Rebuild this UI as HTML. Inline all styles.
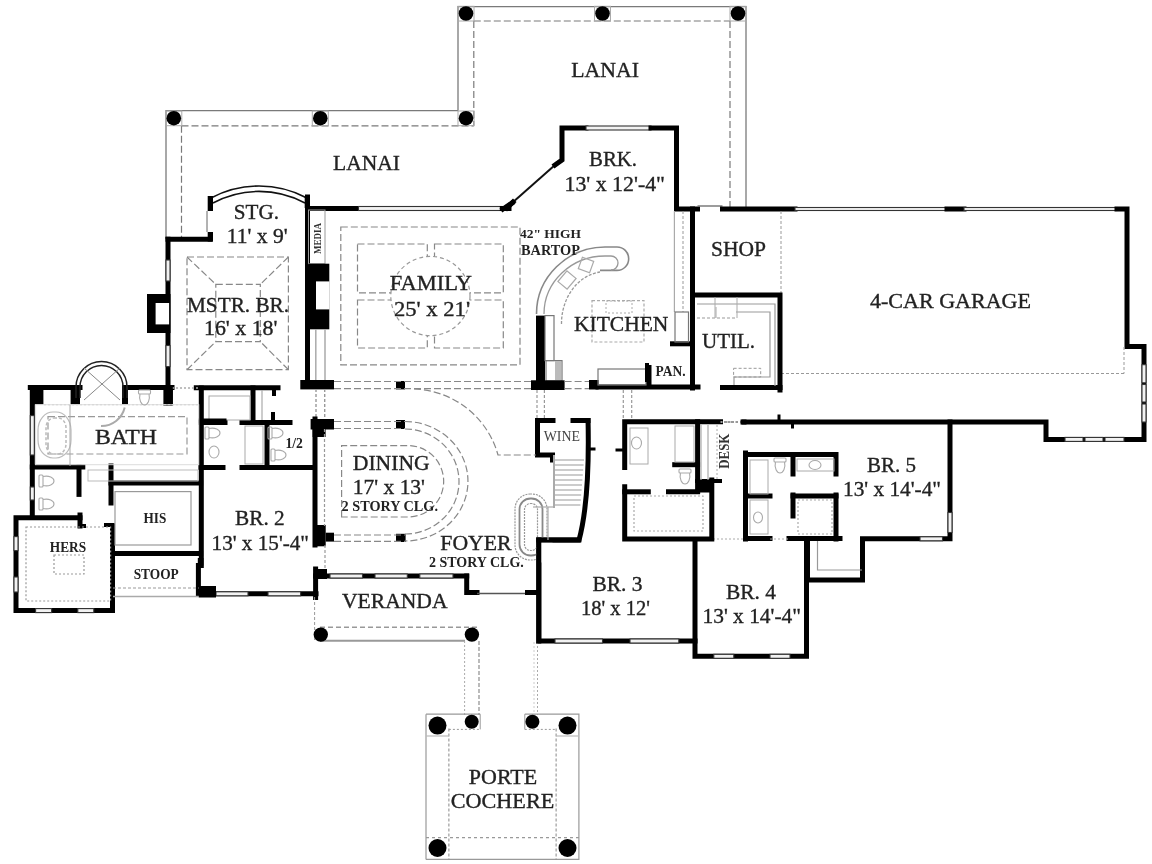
<!DOCTYPE html>
<html><head><meta charset="utf-8"><title>Floor Plan</title>
<style>
html,body{margin:0;padding:0;background:#fff;}
body{width:1152px;height:864px;overflow:hidden;}
svg{display:block;will-change:transform;}
text{font-family:"Liberation Serif", serif;}
</style></head>
<body>
<svg width="1152" height="864" viewBox="0 0 1152 864">
<rect width="1152" height="864" fill="#fff"/>
<path d="M458,110.7 V6.6 H746 V208" fill="none" stroke="#7a7a7a" stroke-width="1.3"/>
<line x1="473.8" y1="21" x2="730" y2="21" stroke="#7a7a7a" stroke-width="1.2" stroke-dasharray="7 3"/>
<line x1="473.8" y1="21" x2="473.8" y2="125.8" stroke="#7a7a7a" stroke-width="1.2" stroke-dasharray="7 3"/>
<line x1="730" y1="21" x2="730" y2="208" stroke="#7a7a7a" stroke-width="1.2" stroke-dasharray="7 3"/>
<path d="M166,239 V110.7 H458" fill="none" stroke="#7a7a7a" stroke-width="1.3"/>
<line x1="181.5" y1="125.8" x2="473.8" y2="125.8" stroke="#7a7a7a" stroke-width="1.2" stroke-dasharray="7 3"/>
<line x1="181.5" y1="125.8" x2="181.5" y2="239" stroke="#7a7a7a" stroke-width="1.2" stroke-dasharray="7 3"/>
<rect x="458" y="6.3" width="16" height="14.7" fill="none" stroke="#aaa" stroke-width="1"/>
<rect x="594.5" y="6.3" width="16.0" height="14.7" fill="none" stroke="#aaa" stroke-width="1"/>
<rect x="730" y="6.3" width="16" height="14.7" fill="none" stroke="#aaa" stroke-width="1"/>
<rect x="458" y="111.0" width="16" height="14.700000000000003" fill="none" stroke="#aaa" stroke-width="1"/>
<rect x="312.3" y="111.0" width="16.0" height="14.700000000000003" fill="none" stroke="#aaa" stroke-width="1"/>
<rect x="165.8" y="111.0" width="16.0" height="14.700000000000003" fill="none" stroke="#aaa" stroke-width="1"/>
<circle cx="466" cy="13.5" r="7.3" fill="#000"/>
<circle cx="602.5" cy="13.5" r="7.3" fill="#000"/>
<circle cx="738" cy="13.5" r="7.3" fill="#000"/>
<circle cx="466" cy="118.2" r="7.3" fill="#000"/>
<circle cx="320.3" cy="118.2" r="7.3" fill="#000"/>
<circle cx="173.8" cy="118.2" r="7.3" fill="#000"/>
<path d="M211,198 A102,102 0 0 1 307,198" fill="none" stroke="#111" stroke-width="1.6"/>
<path d="M213,203 A97,97 0 0 1 305,203" fill="none" stroke="#111" stroke-width="1.6"/>
<rect x="207.7" y="196" width="5.300000000000011" height="15" fill="#000"/>
<line x1="207" y1="211" x2="207" y2="232" stroke="#666" stroke-width="1"/>
<rect x="207.7" y="232" width="5.300000000000011" height="9.599999999999994" fill="#000"/>
<line x1="168" y1="239.3" x2="210" y2="239.3" stroke="#000" stroke-width="5" stroke-linecap="square"/>
<line x1="168" y1="239.3" x2="168" y2="387" stroke="#000" stroke-width="5" stroke-linecap="square"/>
<rect x="166.0" y="260" width="4" height="21" fill="#f2f2f2" stroke="#333" stroke-width="1.1"/>
<rect x="166.0" y="345.5" width="4" height="21.100000000000023" fill="#f2f2f2" stroke="#333" stroke-width="1.1"/>
<rect x="147" y="294" width="23.5" height="39" fill="#000"/>
<rect x="155.6" y="303" width="13.5" height="21.4" fill="#fff"/>
<rect x="163.4" y="387" width="9.400000000000006" height="18.600000000000023" fill="#000"/>
<line x1="307.5" y1="197" x2="307.5" y2="385" stroke="#000" stroke-width="5" stroke-linecap="square"/>
<rect x="304.7" y="197" width="4.900000000000034" height="11" fill="#000"/>
<line x1="307.5" y1="208.5" x2="358.5" y2="208.5" stroke="#000" stroke-width="5" stroke-linecap="square"/>
<rect x="358.5" y="206.5" width="143.8" height="4" fill="#f2f2f2" stroke="#333" stroke-width="1.1"/>
<line x1="502.3" y1="208.5" x2="509" y2="208.5" stroke="#000" stroke-width="5" stroke-linecap="square"/>
<polyline points="503,209 512,203" fill="none" stroke="#000" stroke-width="5" stroke-linecap="square" stroke-linejoin="miter"/>
<line x1="512" y1="203" x2="555" y2="165" stroke="#111" stroke-width="2"/>
<polyline points="507,208 513,202" fill="none" stroke="#000" stroke-width="5" stroke-linecap="square" stroke-linejoin="miter"/>
<polyline points="555,165 562,160 562,128 586,128" fill="none" stroke="#000" stroke-width="5" stroke-linecap="square" stroke-linejoin="miter"/>
<rect x="586" y="126.0" width="65" height="4" fill="#f2f2f2" stroke="#333" stroke-width="1.1"/>
<polyline points="651,128 676.5,128 676.5,209 697.5,209" fill="none" stroke="#000" stroke-width="5" stroke-linecap="square" stroke-linejoin="miter"/>
<line x1="697.5" y1="206" x2="722.5" y2="206" stroke="#666" stroke-width="1.3"/>
<line x1="722.5" y1="209" x2="795" y2="209" stroke="#000" stroke-width="5" stroke-linecap="square"/>
<rect x="795" y="207.5" width="152" height="3" fill="#f2f2f2" stroke="#333" stroke-width="1.1"/>
<line x1="947" y1="209" x2="964" y2="209" stroke="#000" stroke-width="5" stroke-linecap="square"/>
<rect x="964" y="207.5" width="153" height="3" fill="#f2f2f2" stroke="#333" stroke-width="1.1"/>
<polyline points="1117,209 1127,209 1127,346.6 1144,346.6 1144,439.4 1046,439.4 1046,422 744,422" fill="none" stroke="#000" stroke-width="5" stroke-linecap="square" stroke-linejoin="miter"/>
<rect x="1142.0" y="364.7" width="4" height="18.100000000000023" fill="#f2f2f2" stroke="#333" stroke-width="1.1"/>
<rect x="1142.0" y="384.5" width="4" height="17.5" fill="#f2f2f2" stroke="#333" stroke-width="1.1"/>
<rect x="1142.0" y="404" width="4" height="18" fill="#f2f2f2" stroke="#333" stroke-width="1.1"/>
<rect x="1065" y="437.4" width="18" height="4" fill="#f2f2f2" stroke="#333" stroke-width="1.1"/>
<rect x="1085" y="437.4" width="18" height="4" fill="#f2f2f2" stroke="#333" stroke-width="1.1"/>
<rect x="1105" y="437.4" width="19" height="4" fill="#f2f2f2" stroke="#333" stroke-width="1.1"/>
<line x1="779" y1="416" x2="779" y2="422" stroke="#000" stroke-width="3" stroke-linecap="square"/>
<line x1="792.5" y1="422" x2="792.5" y2="427" stroke="#000" stroke-width="3" stroke-linecap="square"/>
<line x1="720" y1="422" x2="744" y2="422" stroke="#999" stroke-width="2" stroke-dasharray="2 2"/>
<line x1="781" y1="373.5" x2="1124" y2="373.5" stroke="#999" stroke-width="1" stroke-dasharray="3 2"/>
<line x1="1124" y1="347" x2="1124" y2="373.5" stroke="#999" stroke-width="1" stroke-dasharray="3 2"/>
<line x1="781" y1="211" x2="781" y2="293" stroke="#999" stroke-width="1" stroke-dasharray="3 2"/>
<line x1="692.5" y1="209" x2="692.5" y2="388" stroke="#000" stroke-width="5" stroke-linecap="square"/>
<polyline points="692.5,295 780,295 780,390" fill="none" stroke="#000" stroke-width="5" stroke-linecap="square" stroke-linejoin="miter"/>
<line x1="722.5" y1="387.5" x2="780" y2="387.5" stroke="#000" stroke-width="5" stroke-linecap="square"/>
<line x1="672.5" y1="343.8" x2="692.5" y2="343.8" stroke="#000" stroke-width="5" stroke-linecap="square"/>
<path d="M697,304 H775 V386" fill="none" stroke="#999" stroke-width="1.2"/>
<path d="M736,312 H770 V377 H734 V386" fill="none" stroke="#999" stroke-width="1.2"/>
<line x1="697" y1="318" x2="736" y2="318" stroke="#999" stroke-width="1.2" stroke-dasharray="3 2"/>
<line x1="715" y1="297" x2="715" y2="318" stroke="#aaa" stroke-width="1"/>
<line x1="737" y1="297" x2="737" y2="318" stroke="#aaa" stroke-width="1"/>
<line x1="716" y1="307" x2="716" y2="318" stroke="#aaa" stroke-width="1"/>
<rect x="733.6" y="368.3" width="27.100000000000023" height="8.699999999999989" fill="none" stroke="#999" stroke-width="1" stroke-dasharray="3 2"/>
<line x1="674.4" y1="211" x2="674.4" y2="312" stroke="#aaa" stroke-width="1.2"/>
<line x1="683" y1="211" x2="683" y2="312" stroke="#999" stroke-width="1" stroke-dasharray="3 2"/>
<rect x="675" y="312" width="13.5" height="30" fill="none" stroke="#777" stroke-width="1.2"/>
<polyline points="950,422 950,538.8 862.5,538.8 862.5,580 807.5,580 807.5,540" fill="none" stroke="#000" stroke-width="5" stroke-linecap="square" stroke-linejoin="miter"/>
<rect x="948.0" y="512.5" width="4" height="20.0" fill="#f2f2f2" stroke="#333" stroke-width="1.1"/>
<rect x="920" y="536.8" width="22.5" height="4" fill="#f2f2f2" stroke="#333" stroke-width="1.1"/>
<path d="M817.5,540 V570 H862" fill="none" stroke="#999" stroke-width="1.2"/>
<polyline points="745.5,539 745.5,454.5 836,454.5 836,474" fill="none" stroke="#000" stroke-width="5" stroke-linecap="square" stroke-linejoin="miter"/>
<line x1="836" y1="495" x2="836" y2="539" stroke="#000" stroke-width="5" stroke-linecap="square"/>
<line x1="793" y1="454.5" x2="793" y2="474" stroke="#000" stroke-width="5" stroke-linecap="square"/>
<line x1="793" y1="495" x2="793" y2="516" stroke="#000" stroke-width="5" stroke-linecap="square"/>
<line x1="745.5" y1="496" x2="770" y2="496" stroke="#000" stroke-width="5" stroke-linecap="square"/>
<line x1="793" y1="496" x2="836" y2="496" stroke="#000" stroke-width="5" stroke-linecap="square"/>
<line x1="745.5" y1="538.5" x2="770" y2="538.5" stroke="#000" stroke-width="5" stroke-linecap="square"/>
<line x1="789" y1="538.5" x2="840" y2="538.5" stroke="#000" stroke-width="5" stroke-linecap="square"/>
<rect x="750" y="460" width="18" height="34" fill="none" stroke="#aaa" stroke-width="1"/>
<rect x="797" y="459" width="37" height="12" fill="none" stroke="#aaa" stroke-width="1"/>
<rect x="798" y="500" width="34" height="34" fill="none" stroke="#aaa" stroke-width="1.2" stroke-dasharray="2 2"/>
<rect x="750" y="500" width="18" height="34" fill="none" stroke="#aaa" stroke-width="1"/>
<polyline points="806.5,540 806.5,656.3 695,656.3 695,540" fill="none" stroke="#000" stroke-width="5" stroke-linecap="square" stroke-linejoin="miter"/>
<line x1="713" y1="539" x2="744" y2="539" stroke="#aaa" stroke-width="1" stroke-dasharray="2 2"/>
<line x1="770" y1="539" x2="789" y2="539" stroke="#aaa" stroke-width="1" stroke-dasharray="2 2"/>
<rect x="713.8" y="654.3" width="20.0" height="4" fill="#f2f2f2" stroke="#333" stroke-width="1.1"/>
<rect x="770" y="654.3" width="20" height="4" fill="#f2f2f2" stroke="#333" stroke-width="1.1"/>
<polyline points="578.8,540 538.8,540 538.8,641 695,641" fill="none" stroke="#000" stroke-width="5" stroke-linecap="square" stroke-linejoin="miter"/>
<rect x="555" y="639.0" width="47.5" height="4" fill="#f2f2f2" stroke="#333" stroke-width="1.1"/>
<rect x="630" y="639.0" width="48.799999999999955" height="4" fill="#f2f2f2" stroke="#333" stroke-width="1.1"/>
<path d="M578.8,541 Q590,500 588,418" fill="none" stroke="#000" stroke-width="5"/>
<line x1="588" y1="449" x2="594" y2="449" stroke="#000" stroke-width="3" stroke-linecap="square"/>
<polyline points="553,420.5 537.5,420.5 537.5,455 552.5,455 552.5,460" fill="none" stroke="#000" stroke-width="5" stroke-linecap="square" stroke-linejoin="miter"/>
<line x1="573" y1="420.5" x2="588" y2="420.5" stroke="#000" stroke-width="5" stroke-linecap="square"/>
<polyline points="720.5,421.7 624.7,421.7 624.7,467.5" fill="none" stroke="#000" stroke-width="5" stroke-linecap="square" stroke-linejoin="miter"/>
<line x1="617" y1="450" x2="624.7" y2="450" stroke="#000" stroke-width="3" stroke-linecap="square"/>
<line x1="697.6" y1="421.7" x2="697.6" y2="491" stroke="#000" stroke-width="5" stroke-linecap="square"/>
<line x1="674.7" y1="464.7" x2="697.6" y2="464.7" stroke="#000" stroke-width="5" stroke-linecap="square"/>
<rect x="697.6" y="480" width="16.0" height="12.5" fill="#000"/>
<line x1="697" y1="481" x2="720" y2="481" stroke="#000" stroke-width="4" stroke-linecap="square"/>
<line x1="624.7" y1="491.8" x2="648.3" y2="491.8" stroke="#000" stroke-width="5" stroke-linecap="square"/>
<line x1="668.5" y1="491.8" x2="697.6" y2="491.8" stroke="#000" stroke-width="5" stroke-linecap="square"/>
<polyline points="624.7,486.7 624.7,539 711.8,539 711.8,480" fill="none" stroke="#000" stroke-width="5" stroke-linecap="square" stroke-linejoin="miter"/>
<rect x="634" y="496" width="69" height="35" fill="none" stroke="#aaa" stroke-width="1.2" stroke-dasharray="2 2"/>
<rect x="630" y="428" width="18" height="36" fill="none" stroke="#aaa" stroke-width="1"/>
<rect x="675" y="426" width="19" height="36" fill="none" stroke="#aaa" stroke-width="1"/>
<line x1="701" y1="425" x2="701" y2="480" stroke="#aaa" stroke-width="1.2"/>
<line x1="708" y1="425" x2="708" y2="480" stroke="#aaa" stroke-width="1.2"/>
<line x1="717" y1="425" x2="717" y2="480" stroke="#aaa" stroke-width="1" stroke-dasharray="2 2"/>
<line x1="720.5" y1="422" x2="743" y2="422" stroke="#999" stroke-width="2" stroke-dasharray="2 3"/>
<line x1="743" y1="422" x2="744" y2="422" stroke="#000" stroke-width="5" stroke-linecap="square"/>
<line x1="745.5" y1="453" x2="745.5" y2="460" stroke="#000" stroke-width="5" stroke-linecap="square"/>
<rect x="536" y="315.6" width="9" height="65.39999999999998" fill="#000"/>
<rect x="545" y="315.6" width="9" height="45.0" fill="none" stroke="#777" stroke-width="1.2"/>
<rect x="546" y="360.6" width="16" height="20.399999999999977" fill="none" stroke="#777" stroke-width="1.2"/>
<rect x="555" y="361" width="6" height="19" fill="#bbb"/>
<rect x="531" y="380.3" width="33.60000000000002" height="9.699999999999989" fill="#000"/>
<rect x="589" y="380" width="9.600000000000023" height="9.5" fill="#000"/>
<line x1="598" y1="387" x2="698" y2="387" stroke="#000" stroke-width="5" stroke-linecap="square"/>
<line x1="722.6" y1="387.5" x2="744" y2="387.5" stroke="#000" stroke-width="5" stroke-linecap="square"/>
<rect x="646" y="365" width="5.5" height="22" fill="#000"/>
<rect x="598" y="369" width="48" height="16" fill="none" stroke="#777" stroke-width="1.2"/>
<line x1="647" y1="365" x2="647" y2="380" stroke="#000" stroke-width="4" stroke-linecap="square"/>
<line x1="692.8" y1="380" x2="692.8" y2="388" stroke="#000" stroke-width="4" stroke-linecap="square"/>
<line x1="537" y1="390" x2="537" y2="420" stroke="#999" stroke-width="1.2" stroke-dasharray="3 2"/>
<line x1="544.4" y1="390" x2="544.4" y2="420" stroke="#999" stroke-width="1.2" stroke-dasharray="3 2"/>
<line x1="623.3" y1="390" x2="623.3" y2="420" stroke="#999" stroke-width="1.2" stroke-dasharray="3 2"/>
<line x1="631.7" y1="390" x2="631.7" y2="420" stroke="#999" stroke-width="1.2" stroke-dasharray="3 2"/>
<rect x="300.3" y="380" width="33.69999999999999" height="9.399999999999977" fill="#000"/>
<rect x="310.6" y="419" width="23.399999999999977" height="10.5" fill="#000"/>
<rect x="396" y="381" width="9" height="8.399999999999977" fill="#000"/>
<rect x="396" y="420" width="9" height="9" fill="#000"/>
<rect x="396" y="533.8" width="9.600000000000023" height="8.200000000000045" fill="#000"/>
<rect x="313.2" y="525" width="12.5" height="21.299999999999955" fill="#000"/>
<rect x="325.7" y="532.7" width="8.300000000000011" height="8.899999999999977" fill="#000"/>
<rect x="312.6" y="429" width="13.0" height="8" fill="#000"/>
<line x1="316" y1="389" x2="316" y2="419" stroke="#999" stroke-width="1.4" stroke-dasharray="3 2"/>
<line x1="324.7" y1="389" x2="324.7" y2="419" stroke="#999" stroke-width="1.4" stroke-dasharray="3 2"/>
<line x1="334" y1="381.5" x2="531" y2="381.5" stroke="#888" stroke-width="1.2" stroke-dasharray="7 3"/>
<line x1="564.6" y1="381.5" x2="589" y2="381.5" stroke="#888" stroke-width="1.2" stroke-dasharray="7 3"/>
<line x1="334" y1="388.6" x2="531" y2="388.6" stroke="#888" stroke-width="1.2" stroke-dasharray="7 3"/>
<line x1="564.6" y1="388.6" x2="589" y2="388.6" stroke="#888" stroke-width="1.2" stroke-dasharray="7 3"/>
<line x1="334" y1="421.5" x2="405" y2="421.5" stroke="#888" stroke-width="1.2" stroke-dasharray="7 3"/>
<line x1="334" y1="428.5" x2="405" y2="428.5" stroke="#888" stroke-width="1.2" stroke-dasharray="7 3"/>
<line x1="334" y1="535" x2="405" y2="535" stroke="#888" stroke-width="1.2" stroke-dasharray="7 3"/>
<line x1="334" y1="541.3" x2="405" y2="541.3" stroke="#888" stroke-width="1.2" stroke-dasharray="7 3"/>
<line x1="315" y1="419" x2="315" y2="545" stroke="#000" stroke-width="5" stroke-linecap="square"/>
<line x1="324.5" y1="429" x2="324.5" y2="526" stroke="#999" stroke-width="1.2" stroke-dasharray="3 2"/>
<line x1="325" y1="545" x2="325" y2="569" stroke="#999" stroke-width="1.2" stroke-dasharray="3 2"/>
<rect x="313.8" y="569" width="13.199999999999989" height="10" fill="#000"/>
<line x1="315.6" y1="569" x2="315.6" y2="597.5" stroke="#000" stroke-width="5" stroke-linecap="square"/>
<polyline points="201.3,388 201.3,565.6 198.4,565.6 198.4,593.8 316,593.8" fill="none" stroke="#000" stroke-width="5" stroke-linecap="square" stroke-linejoin="miter"/>
<rect x="216" y="591.8" width="32" height="4" fill="#f2f2f2" stroke="#333" stroke-width="1.1"/>
<rect x="268" y="591.8" width="32.60000000000002" height="4" fill="#f2f2f2" stroke="#333" stroke-width="1.1"/>
<line x1="196.3" y1="387.8" x2="278" y2="387.8" stroke="#000" stroke-width="5" stroke-linecap="square"/>
<line x1="274" y1="388" x2="274" y2="394" stroke="#000" stroke-width="4" stroke-linecap="square"/>
<line x1="201" y1="422.5" x2="225" y2="422.5" stroke="#000" stroke-width="5" stroke-linecap="square"/>
<line x1="242" y1="422.5" x2="290" y2="422.5" stroke="#000" stroke-width="5" stroke-linecap="square"/>
<line x1="253" y1="388" x2="253" y2="422.5" stroke="#000" stroke-width="5" stroke-linecap="square"/>
<line x1="267" y1="422.5" x2="267" y2="467.5" stroke="#000" stroke-width="5" stroke-linecap="square"/>
<line x1="201" y1="467.5" x2="223" y2="467.5" stroke="#000" stroke-width="5" stroke-linecap="square"/>
<line x1="242" y1="467.5" x2="313" y2="467.5" stroke="#000" stroke-width="5" stroke-linecap="square"/>
<line x1="273" y1="414" x2="273" y2="421" stroke="#000" stroke-width="4" stroke-linecap="square"/>
<rect x="209" y="396" width="41" height="24" fill="none" stroke="#aaa" stroke-width="1"/>
<rect x="245" y="426" width="18" height="38" fill="none" stroke="#aaa" stroke-width="1"/>
<line x1="262" y1="390" x2="262" y2="420" stroke="#aaa" stroke-width="1.2"/>
<line x1="30.3" y1="387.5" x2="80" y2="387.5" stroke="#000" stroke-width="5" stroke-linecap="square"/>
<line x1="125" y1="387.5" x2="172" y2="387.5" stroke="#000" stroke-width="5" stroke-linecap="square"/>
<line x1="172" y1="388" x2="198" y2="388" stroke="#aaa" stroke-width="1.5" stroke-dasharray="2 2"/>
<rect x="30.3" y="385.6" width="13.099999999999998" height="18.799999999999955" fill="#000"/>
<rect x="70.6" y="385.6" width="9.400000000000006" height="18.799999999999955" fill="#000"/>
<rect x="122" y="385.6" width="6" height="18.799999999999955" fill="#000"/>
<rect x="164.4" y="385.6" width="8.400000000000006" height="18.799999999999955" fill="#000"/>
<path d="M76,398 V387 A25.5,25.5 0 0 1 127,387 V398" fill="none" stroke="#222" stroke-width="1.5"/>
<path d="M80,398 V387 A21.5,21.5 0 0 1 123,387 V398" fill="none" stroke="#222" stroke-width="1.5"/>
<line x1="84" y1="368" x2="120" y2="400" stroke="#888" stroke-width="1"/>
<line x1="120" y1="368" x2="84" y2="400" stroke="#888" stroke-width="1"/>
<line x1="32.3" y1="387.5" x2="32.3" y2="517" stroke="#000" stroke-width="5" stroke-linecap="square"/>
<rect x="30.299999999999997" y="415.6" width="4" height="39.39999999999998" fill="#f2f2f2" stroke="#333" stroke-width="1.1"/>
<rect x="30.299999999999997" y="487" width="4" height="13" fill="#f2f2f2" stroke="#333" stroke-width="1.1"/>
<line x1="32.3" y1="467" x2="82.8" y2="467" stroke="#000" stroke-width="5" stroke-linecap="square"/>
<line x1="79" y1="467" x2="79" y2="494.4" stroke="#000" stroke-width="5" stroke-linecap="square"/>
<line x1="111" y1="466" x2="111" y2="503" stroke="#000" stroke-width="5" stroke-linecap="square"/>
<line x1="111" y1="483" x2="200.6" y2="483" stroke="#000" stroke-width="5" stroke-linecap="square"/>
<line x1="112.5" y1="553.4" x2="200.6" y2="553.4" stroke="#000" stroke-width="5" stroke-linecap="square"/>
<line x1="201" y1="421" x2="224" y2="421" stroke="#000" stroke-width="5" stroke-linecap="square"/>
<rect x="48" y="416.6" width="139" height="37.39999999999998" fill="none" stroke="#999" stroke-width="1.2" stroke-dasharray="7 3"/>
<rect x="38" y="412" width="33" height="46" rx="15" ry="18" fill="none" stroke="#bbb" stroke-width="1.2"/>
<rect x="46" y="418" width="20" height="36" rx="8" ry="10" fill="none" stroke="#bbb" stroke-width="1.5" stroke-dasharray="3 2"/>
<path d="M101,426 A24,24 0 0 0 124.7,407.5" fill="none" stroke="#aaa" stroke-width="2"/>
<line x1="44" y1="404.7" x2="198" y2="404.7" stroke="#bbb" stroke-width="1" stroke-dasharray="2 2"/>
<rect x="35.6" y="404.7" width="163.15" height="60.0" fill="none" stroke="#ddd" stroke-width="1"/>
<line x1="70" y1="405" x2="70" y2="466" stroke="#aaa" stroke-width="1"/>
<rect x="88" y="470" width="110" height="11" fill="none" stroke="#bbb" stroke-width="1"/>
<polyline points="80,517.8 16,517.8 16,610.6 112.5,610.6 112.5,526" fill="none" stroke="#000" stroke-width="5" stroke-linecap="square" stroke-linejoin="miter"/>
<line x1="80" y1="515" x2="80" y2="526" stroke="#000" stroke-width="5" stroke-linecap="square"/>
<line x1="80" y1="526" x2="84" y2="526" stroke="#000" stroke-width="4" stroke-linecap="square"/>
<line x1="106" y1="525" x2="112.5" y2="525" stroke="#000" stroke-width="4" stroke-linecap="square"/>
<rect x="14.0" y="536.6" width="4" height="14.0" fill="#f2f2f2" stroke="#333" stroke-width="1.1"/>
<rect x="14.0" y="577" width="4" height="15" fill="#f2f2f2" stroke="#333" stroke-width="1.1"/>
<rect x="35.6" y="608.6" width="16.0" height="4" fill="#f2f2f2" stroke="#333" stroke-width="1.1"/>
<rect x="77.8" y="608.6" width="16.0" height="4" fill="#f2f2f2" stroke="#333" stroke-width="1.1"/>
<rect x="26" y="527" width="84.6" height="74" fill="none" stroke="#999" stroke-width="1.2" stroke-dasharray="2 2"/>
<rect x="54" y="555" width="30" height="19" fill="none" stroke="#999" stroke-width="1.2" stroke-dasharray="2 2"/>
<rect x="115" y="491.6" width="76" height="53.39999999999998" fill="none" stroke="#999" stroke-width="1.2"/>
<line x1="113" y1="588" x2="199" y2="588" stroke="#999" stroke-width="1.2" stroke-dasharray="3 2"/>
<line x1="113" y1="596.6" x2="199" y2="596.6" stroke="#aaa" stroke-width="1.5"/>
<rect x="197.8" y="558" width="5.599999999999994" height="7.600000000000023" fill="#000"/>
<rect x="198.8" y="586" width="17.19999999999999" height="11.5" fill="#000"/>
<line x1="315.6" y1="576" x2="466.7" y2="576" stroke="#000" stroke-width="5" stroke-linecap="square"/>
<rect x="330" y="574.0" width="32.5" height="4" fill="#f2f2f2" stroke="#333" stroke-width="1.1"/>
<rect x="375" y="574.0" width="32.30000000000001" height="4" fill="#f2f2f2" stroke="#333" stroke-width="1.1"/>
<rect x="419.8" y="574.0" width="33.19999999999999" height="4" fill="#f2f2f2" stroke="#333" stroke-width="1.1"/>
<polyline points="466.7,576 466.7,592.5 477,592.5" fill="none" stroke="#000" stroke-width="5" stroke-linecap="square" stroke-linejoin="miter"/>
<line x1="477" y1="593.5" x2="527.5" y2="593.5" stroke="#555" stroke-width="1.5"/>
<line x1="527.5" y1="592.5" x2="538" y2="592.5" stroke="#000" stroke-width="5" stroke-linecap="square"/>
<line x1="314.6" y1="597" x2="314.6" y2="641" stroke="#999" stroke-width="1" stroke-dasharray="3 2"/>
<line x1="320" y1="627.3" x2="479" y2="627.3" stroke="#999" stroke-width="1.6" stroke-dasharray="5 3"/>
<line x1="320" y1="640.8" x2="465" y2="640.8" stroke="#999" stroke-width="2"/>
<circle cx="320.8" cy="634.6" r="7.2" fill="#000"/>
<circle cx="471.9" cy="634.6" r="7.2" fill="#000"/>
<line x1="464.6" y1="641" x2="464.6" y2="715" stroke="#aaa" stroke-width="1" stroke-dasharray="2 2"/>
<line x1="479" y1="641" x2="479" y2="715" stroke="#aaa" stroke-width="1.6" stroke-dasharray="4 2"/>
<line x1="537.5" y1="642" x2="537.5" y2="715" stroke="#aaa" stroke-width="1" stroke-dasharray="2 2"/>
<line x1="534" y1="642" x2="534" y2="715" stroke="#ccc" stroke-width="1" stroke-dasharray="2 2"/>
<line x1="426" y1="714.2" x2="426" y2="859.4" stroke="#999" stroke-width="1.2"/>
<path d="M426,714.2 H480.2 M524.8,714.2 H578.9 V859.4 H426" fill="none" stroke="#999" stroke-width="1.2"/>
<line x1="448.9" y1="728.5" x2="448.9" y2="859.4" stroke="#888" stroke-width="1" stroke-dasharray="3 2"/>
<line x1="556.1" y1="728.5" x2="556.1" y2="859.4" stroke="#888" stroke-width="1" stroke-dasharray="3 2"/>
<line x1="426" y1="837.6" x2="578.9" y2="837.6" stroke="#999" stroke-width="1.2" stroke-dasharray="3 3"/>
<line x1="426" y1="736" x2="448.9" y2="736" stroke="#bbb" stroke-width="1.2"/>
<line x1="556.1" y1="736" x2="578.9" y2="736" stroke="#bbb" stroke-width="1.2"/>
<line x1="448.9" y1="729.4" x2="480.2" y2="729.4" stroke="#999" stroke-width="1" stroke-dasharray="2 2"/>
<line x1="524.8" y1="729.4" x2="556.1" y2="729.4" stroke="#999" stroke-width="1" stroke-dasharray="2 2"/>
<line x1="480.2" y1="714.2" x2="480.2" y2="729.4" stroke="#999" stroke-width="1"/>
<line x1="524.8" y1="714.2" x2="524.8" y2="729.4" stroke="#999" stroke-width="1"/>
<circle cx="437.5" cy="725.6" r="9" fill="#000"/>
<circle cx="471.7" cy="721.8" r="7" fill="#000"/>
<circle cx="532.4" cy="721.8" r="7" fill="#000"/>
<circle cx="567.5" cy="725.6" r="9" fill="#000"/>
<circle cx="437.5" cy="848" r="9" fill="#000"/>
<circle cx="567.5" cy="848" r="9" fill="#000"/>
<rect x="340.8" y="227" width="179.2" height="137.8" fill="none" stroke="#888" stroke-width="1.2" stroke-dasharray="7 3"/>
<rect x="357.5" y="244" width="69.80000000000001" height="48.89999999999998" fill="none" stroke="#888" stroke-width="1.2" stroke-dasharray="7 3"/>
<rect x="434.5" y="244" width="68.80000000000001" height="48.89999999999998" fill="none" stroke="#888" stroke-width="1.2" stroke-dasharray="7 3"/>
<rect x="357.5" y="300" width="69.80000000000001" height="48" fill="none" stroke="#888" stroke-width="1.2" stroke-dasharray="7 3"/>
<rect x="434.5" y="300" width="68.80000000000001" height="48" fill="none" stroke="#888" stroke-width="1.2" stroke-dasharray="7 3"/>
<circle cx="430.4" cy="296" r="39.6" fill="#fff" stroke="#999" stroke-width="1.2" stroke-dasharray="4 3"/>
<rect x="308.5" y="210" width="16.5" height="53.69999999999999" fill="none" stroke="#999" stroke-width="1"/>
<rect x="308.5" y="263.7" width="20.80000000000001" height="65.60000000000002" fill="#000"/>
<rect x="316" y="281.4" width="13.5" height="28" fill="#fff"/>
<line x1="315.8" y1="329" x2="315.8" y2="380" stroke="#aaa" stroke-width="1.5"/>
<line x1="325" y1="329" x2="325" y2="380" stroke="#aaa" stroke-width="1.5"/>
<rect x="187" y="257" width="101.39999999999998" height="112.69999999999999" fill="none" stroke="#888" stroke-width="1.2" stroke-dasharray="7 3"/>
<rect x="215.8" y="284.4" width="44.5" height="57.200000000000045" fill="none" stroke="#888" stroke-width="1.2" stroke-dasharray="7 3"/>
<line x1="187" y1="257" x2="215.8" y2="284.4" stroke="#888" stroke-width="1.2" stroke-dasharray="7 3"/>
<line x1="288.4" y1="257" x2="260.3" y2="284.4" stroke="#888" stroke-width="1.2" stroke-dasharray="7 3"/>
<line x1="187" y1="369.7" x2="215.8" y2="341.6" stroke="#888" stroke-width="1.2" stroke-dasharray="7 3"/>
<line x1="288.4" y1="369.7" x2="260.3" y2="341.6" stroke="#888" stroke-width="1.2" stroke-dasharray="7 3"/>
<path d="M341.6,517 V445.6 H408 A35.7,35.7 0 0 1 408,517 Z" fill="none" stroke="#888" stroke-width="1.2" stroke-dasharray="7 3"/>
<path d="M405,429 A54,52.5 0 0 1 405,534" fill="none" stroke="#888" stroke-width="1.2" stroke-dasharray="7 3"/>
<path d="M405,421.5 A63,59.75 0 0 1 405,541" fill="none" stroke="#888" stroke-width="1.2" stroke-dasharray="7 3"/>
<path d="M414,389 A90,90 0 0 1 498,455 H536" fill="none" stroke="#888" stroke-width="1.2" stroke-dasharray="7 3"/>
<path d="M536.5,314 A69,67 0 0 1 605,247 H617 A11.7,11.7 0 0 1 617,270.4 H600" fill="none" stroke="#888" stroke-width="1.6"/>
<path d="M544,314 A61,58 0 0 1 605,256 H611 A7,7 0 0 1 611,270" fill="none" stroke="#999" stroke-width="1.3"/>
<path d="M561.5,324 A44,52 0 0 1 600,272" fill="none" stroke="#999" stroke-width="1.3" stroke-dasharray="3 1.5"/>
<rect x="561" y="273" width="12" height="14" fill="none" stroke="#aaa" stroke-width="1.2" transform="rotate(40 567 280)"/>
<rect x="580" y="259" width="12" height="12" fill="none" stroke="#aaa" stroke-width="1.2" transform="rotate(20 586 265)"/>
<rect x="592" y="300.6" width="52" height="41.39999999999998" fill="none" stroke="#aaa" stroke-width="1.2" stroke-dasharray="3 2"/>
<line x1="555" y1="460" x2="584.0" y2="460" stroke="#999" stroke-width="1"/>
<line x1="555" y1="465" x2="583.6" y2="465" stroke="#999" stroke-width="1"/>
<line x1="555" y1="470" x2="583.2" y2="470" stroke="#999" stroke-width="1"/>
<line x1="555" y1="475" x2="582.8" y2="475" stroke="#999" stroke-width="1"/>
<line x1="555" y1="480" x2="582.4" y2="480" stroke="#999" stroke-width="1"/>
<line x1="555" y1="485" x2="582.0" y2="485" stroke="#999" stroke-width="1"/>
<line x1="555" y1="490" x2="581.6" y2="490" stroke="#999" stroke-width="1"/>
<line x1="555" y1="495" x2="581.2" y2="495" stroke="#999" stroke-width="1"/>
<line x1="555" y1="500" x2="580.8" y2="500" stroke="#999" stroke-width="1"/>
<line x1="555" y1="505" x2="580.4" y2="505" stroke="#999" stroke-width="1"/>
<line x1="554" y1="455" x2="554" y2="508" stroke="#aaa" stroke-width="2"/>
<rect x="515" y="494" width="32" height="66" rx="15" ry="15" fill="none" stroke="#999" stroke-width="1.2" stroke-dasharray="2 1"/>
<rect x="519.5" y="498.5" width="23" height="57" rx="11" ry="11" fill="none" stroke="#888" stroke-width="1.8"/>
<rect x="524.5" y="503.5" width="13" height="47" rx="6" ry="6" fill="none" stroke="#999" stroke-width="1.2" stroke-dasharray="2 1"/>
<rect x="540.5" y="542.5" width="12" height="20" fill="#fff"/>
<line x1="538.8" y1="540" x2="538.8" y2="641" stroke="#000" stroke-width="5" stroke-linecap="square"/>
<line x1="538.8" y1="540" x2="578" y2="540" stroke="#000" stroke-width="5" stroke-linecap="square"/>
<line x1="533" y1="507" x2="554" y2="507" stroke="#aaa" stroke-width="1.2"/>
<line x1="548" y1="507" x2="548" y2="540" stroke="#aaa" stroke-width="1.2"/>
<g transform="translate(144.5,398) rotate(0) scale(1.0)" fill="none" stroke="#aaa" stroke-width="1.1"><rect x="-6" y="-8" width="12" height="4" rx="1"/><path d="M-4.5,-4 C-6,2 -3,7 0,7 C3,7 6,2 4.5,-4"/></g>
<g transform="translate(47,481) rotate(-90) scale(1.0)" fill="none" stroke="#aaa" stroke-width="1.1"><rect x="-6" y="-8" width="12" height="4" rx="1"/><path d="M-4.5,-4 C-6,2 -3,7 0,7 C3,7 6,2 4.5,-4"/></g>
<g transform="translate(47,504) rotate(-90) scale(1.0)" fill="none" stroke="#aaa" stroke-width="1.1"><rect x="-6" y="-8" width="12" height="4" rx="1"/><path d="M-4.5,-4 C-6,2 -3,7 0,7 C3,7 6,2 4.5,-4"/></g>
<g transform="translate(276,433) rotate(-90) scale(1.0)" fill="none" stroke="#aaa" stroke-width="1.1"><rect x="-6" y="-8" width="12" height="4" rx="1"/><path d="M-4.5,-4 C-6,2 -3,7 0,7 C3,7 6,2 4.5,-4"/></g>
<g transform="translate(279,455) rotate(-90) scale(1.0)" fill="none" stroke="#aaa" stroke-width="1.1"><rect x="-6" y="-8" width="12" height="4" rx="1"/><path d="M-4.5,-4 C-6,2 -3,7 0,7 C3,7 6,2 4.5,-4"/></g>
<g transform="translate(213,433) rotate(-90) scale(1.0)" fill="none" stroke="#aaa" stroke-width="1.1"><rect x="-6" y="-8" width="12" height="4" rx="1"/><path d="M-4.5,-4 C-6,2 -3,7 0,7 C3,7 6,2 4.5,-4"/></g>
<ellipse cx="214" cy="452" rx="5" ry="6" fill="none" stroke="#aaa" stroke-width="1.1"/>
<g transform="translate(685,477) rotate(0) scale(1.0)" fill="none" stroke="#aaa" stroke-width="1.1"><rect x="-6" y="-8" width="12" height="4" rx="1"/><path d="M-4.5,-4 C-6,2 -3,7 0,7 C3,7 6,2 4.5,-4"/></g>
<ellipse cx="636.5" cy="443" rx="5" ry="6" fill="none" stroke="#aaa" stroke-width="1.1"/>
<g transform="translate(780,466) rotate(0) scale(1.0)" fill="none" stroke="#aaa" stroke-width="1.1"><rect x="-6" y="-8" width="12" height="4" rx="1"/><path d="M-4.5,-4 C-6,2 -3,7 0,7 C3,7 6,2 4.5,-4"/></g>
<ellipse cx="815" cy="465" rx="6" ry="4.5" fill="none" stroke="#aaa" stroke-width="1.1"/>
<ellipse cx="758" cy="517.5" rx="4.5" ry="5.5" fill="none" stroke="#aaa" stroke-width="1.1"/>
<rect x="606" y="301" width="26" height="12" fill="none" stroke="#aaa" stroke-width="1" stroke-dasharray="2 2"/>
<text x="605.15" y="77.3" font-size="21" text-anchor="middle" textLength="67.70000000000005" lengthAdjust="spacingAndGlyphs" fill="#222" stroke="#222" stroke-width="0.35">LANAI</text>
<text x="366.5" y="170" font-size="21" text-anchor="middle" textLength="67" lengthAdjust="spacingAndGlyphs" fill="#222" stroke="#222" stroke-width="0.35">LANAI</text>
<text x="613.0" y="166" font-size="21" text-anchor="middle" textLength="48" lengthAdjust="spacingAndGlyphs" fill="#222" stroke="#222" stroke-width="0.35">BRK.</text>
<text x="614.75" y="191" font-size="21" text-anchor="middle" textLength="100.5" lengthAdjust="spacingAndGlyphs" fill="#222" stroke="#222" stroke-width="0.35">13' x 12'-4&quot;</text>
<text x="550.5" y="238" font-size="13" text-anchor="middle" textLength="61" lengthAdjust="spacingAndGlyphs" fill="#222" font-weight="bold">42&quot; HIGH</text>
<text x="550.5" y="254.5" font-size="14" text-anchor="middle" textLength="59" lengthAdjust="spacingAndGlyphs" fill="#222" font-weight="bold">BARTOP</text>
<text x="738.5" y="256" font-size="21" text-anchor="middle" textLength="55" lengthAdjust="spacingAndGlyphs" fill="#222" stroke="#222" stroke-width="0.35">SHOP</text>
<text x="256.4" y="218.8" font-size="21" text-anchor="middle" textLength="45.19999999999999" lengthAdjust="spacingAndGlyphs" fill="#222" stroke="#222" stroke-width="0.35">STG.</text>
<text x="257.15" y="243" font-size="21" text-anchor="middle" textLength="60.900000000000034" lengthAdjust="spacingAndGlyphs" fill="#222" stroke="#222" stroke-width="0.35">11' x 9'</text>
<text x="430.9" y="289.8" font-size="21" text-anchor="middle" textLength="82.19999999999999" lengthAdjust="spacingAndGlyphs" fill="#222" stroke="#222" stroke-width="0.35">FAMILY</text>
<text x="432.0" y="316" font-size="21" text-anchor="middle" textLength="76" lengthAdjust="spacingAndGlyphs" fill="#222" stroke="#222" stroke-width="0.35">25' x 21'</text>
<text x="238.0" y="311.7" font-size="21" text-anchor="middle" textLength="102" lengthAdjust="spacingAndGlyphs" fill="#222" stroke="#222" stroke-width="0.35">MSTR. BR.</text>
<text x="240.75" y="335" font-size="21" text-anchor="middle" textLength="73.5" lengthAdjust="spacingAndGlyphs" fill="#222" stroke="#222" stroke-width="0.35">16' x 18'</text>
<text x="621.2" y="330.6" font-size="21" text-anchor="middle" textLength="94.39999999999998" lengthAdjust="spacingAndGlyphs" fill="#222" stroke="#222" stroke-width="0.35">KITCHEN</text>
<text x="950.5" y="308" font-size="21" text-anchor="middle" textLength="161" lengthAdjust="spacingAndGlyphs" fill="#222" stroke="#222" stroke-width="0.35">4-CAR GARAGE</text>
<text x="728.5" y="348" font-size="21" text-anchor="middle" textLength="53" lengthAdjust="spacingAndGlyphs" fill="#222" stroke="#222" stroke-width="0.35">UTIL.</text>
<text x="670.6" y="375.6" font-size="15" text-anchor="middle" textLength="30.0" lengthAdjust="spacingAndGlyphs" fill="#222" font-weight="bold">PAN.</text>
<text x="126.0" y="443.8" font-size="21" text-anchor="middle" textLength="62" lengthAdjust="spacingAndGlyphs" fill="#222" stroke="#222" stroke-width="0.35">BATH</text>
<text x="294.1" y="447.8" font-size="14" text-anchor="middle" textLength="17.400000000000034" lengthAdjust="spacingAndGlyphs" fill="#222" font-weight="bold">1/2</text>
<text x="561.85" y="440.5" font-size="14.5" text-anchor="middle" textLength="36.299999999999955" lengthAdjust="spacingAndGlyphs" fill="#444">WINE</text>
<text x="391.25" y="470" font-size="21" text-anchor="middle" textLength="76.89999999999998" lengthAdjust="spacingAndGlyphs" fill="#222" stroke="#222" stroke-width="0.35">DINING</text>
<text x="388.9" y="494.4" font-size="21" text-anchor="middle" textLength="72.19999999999999" lengthAdjust="spacingAndGlyphs" fill="#222" stroke="#222" stroke-width="0.35">17' x 13'</text>
<text x="389.8" y="511" font-size="14.5" text-anchor="middle" textLength="96.39999999999998" lengthAdjust="spacingAndGlyphs" fill="#222" font-weight="bold">2 STORY CLG.</text>
<text x="891.5" y="472" font-size="21" text-anchor="middle" textLength="49" lengthAdjust="spacingAndGlyphs" fill="#222" stroke="#222" stroke-width="0.35">BR. 5</text>
<text x="892.0" y="496" font-size="21" text-anchor="middle" textLength="98" lengthAdjust="spacingAndGlyphs" fill="#222" stroke="#222" stroke-width="0.35">13' x 14'-4&quot;</text>
<text x="154.9" y="523.2" font-size="14.5" text-anchor="middle" textLength="22.80000000000001" lengthAdjust="spacingAndGlyphs" fill="#222" font-weight="bold">HIS</text>
<text x="68.0" y="552" font-size="14.5" text-anchor="middle" textLength="36.400000000000006" lengthAdjust="spacingAndGlyphs" fill="#222" font-weight="bold">HERS</text>
<text x="259.85" y="525.3" font-size="21" text-anchor="middle" textLength="49.69999999999999" lengthAdjust="spacingAndGlyphs" fill="#222" stroke="#222" stroke-width="0.35">BR. 2</text>
<text x="260.3" y="549.7" font-size="21" text-anchor="middle" textLength="97.4" lengthAdjust="spacingAndGlyphs" fill="#222" stroke="#222" stroke-width="0.35">13' x 15'-4&quot;</text>
<text x="475.95000000000005" y="550.3" font-size="21" text-anchor="middle" textLength="71.30000000000001" lengthAdjust="spacingAndGlyphs" fill="#222" stroke="#222" stroke-width="0.35">FOYER</text>
<text x="476.4" y="567.2" font-size="14" text-anchor="middle" textLength="94.79999999999995" lengthAdjust="spacingAndGlyphs" fill="#222" font-weight="bold">2 STORY CLG.</text>
<text x="156.2" y="579.2" font-size="14.5" text-anchor="middle" textLength="45.0" lengthAdjust="spacingAndGlyphs" fill="#222" font-weight="bold">STOOP</text>
<text x="394.75" y="608" font-size="21" text-anchor="middle" textLength="105.5" lengthAdjust="spacingAndGlyphs" fill="#222" stroke="#222" stroke-width="0.35">VERANDA</text>
<text x="617.5" y="591" font-size="21" text-anchor="middle" textLength="50.0" lengthAdjust="spacingAndGlyphs" fill="#222" stroke="#222" stroke-width="0.35">BR. 3</text>
<text x="615.5" y="615" font-size="21" text-anchor="middle" textLength="69" lengthAdjust="spacingAndGlyphs" fill="#222" stroke="#222" stroke-width="0.35">18' x 12'</text>
<text x="751.0" y="599" font-size="21" text-anchor="middle" textLength="50" lengthAdjust="spacingAndGlyphs" fill="#222" stroke="#222" stroke-width="0.35">BR. 4</text>
<text x="751.75" y="622.5" font-size="21" text-anchor="middle" textLength="98.5" lengthAdjust="spacingAndGlyphs" fill="#222" stroke="#222" stroke-width="0.35">13' x 14'-4&quot;</text>
<text x="502.95000000000005" y="783.5" font-size="21" text-anchor="middle" textLength="68.30000000000001" lengthAdjust="spacingAndGlyphs" fill="#222" stroke="#222" stroke-width="0.35">PORTE</text>
<text x="502.5" y="808.2" font-size="21" text-anchor="middle" textLength="103.40000000000003" lengthAdjust="spacingAndGlyphs" fill="#222" stroke="#222" stroke-width="0.35">COCHERE</text>
<text transform="translate(320.7,238.5) rotate(-90)" font-size="10" font-weight="bold" text-anchor="middle" textLength="31" lengthAdjust="spacingAndGlyphs" fill="#333">MEDIA</text>
<text transform="translate(729.4,451.2) rotate(-90)" font-size="14" font-weight="bold" text-anchor="middle" textLength="35" lengthAdjust="spacingAndGlyphs" fill="#333">DESK</text>
</svg>
</body></html>
